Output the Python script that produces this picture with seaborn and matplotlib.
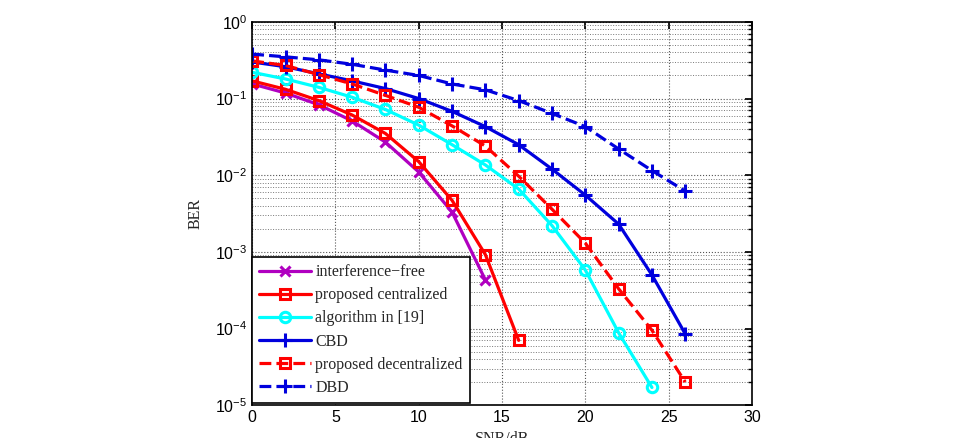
import numpy as np
import pandas as pd
import matplotlib
matplotlib.use('Agg')
import matplotlib.pyplot as plt
import seaborn as sns
from matplotlib.ticker import LogLocator, NullFormatter

# --- data ---
snr_if = [0, 2, 4, 6, 8, 10, 12, 14]
ber_if = [0.155, 0.118, 0.083, 0.051, 0.027, 0.011, 0.0033, 0.00043]

snr_pc = [0, 2, 4, 6, 8, 10, 12, 14, 16]
ber_pc = [0.17, 0.132, 0.094, 0.061, 0.035, 0.015, 0.0047, 0.00092, 7.0e-5]

snr_alg = [0, 2, 4, 6, 8, 10, 12, 14, 16, 18, 20, 22, 24]
ber_alg = [0.22, 0.18, 0.14, 0.104, 0.072, 0.045, 0.025, 0.0136, 0.0066, 0.0022, 0.00058, 8.8e-5, 1.7e-5]

snr_cbd = [0, 2, 4, 6, 8, 10, 12, 14, 16, 18, 20, 22, 24, 26]
ber_cbd = [0.30, 0.26, 0.21, 0.17, 0.135, 0.10, 0.068, 0.043, 0.025, 0.012, 0.0055, 0.0023, 0.0005, 8.5e-5]

snr_pd = [0, 2, 4, 6, 8, 10, 12, 14, 16, 18, 20, 22, 24, 26]
ber_pd = [0.31, 0.27, 0.205, 0.155, 0.11, 0.077, 0.044, 0.024, 0.0097, 0.0036, 0.0013, 0.00033, 9.5e-5, 2.0e-5]

snr_dbd = [0, 2, 4, 6, 8, 10, 12, 14, 16, 18, 20, 22, 24, 26]
ber_dbd = [0.38, 0.35, 0.32, 0.28, 0.235, 0.20, 0.155, 0.13, 0.094, 0.064, 0.043, 0.022, 0.0115, 0.0062]

series = [
    ('interference\u2212free', snr_if, ber_if, '#B000C0', 'x', '-'),
    ('proposed centralized', snr_pc, ber_pc, '#FF0000', 's', '-'),
    ('algorithm in [19]', snr_alg, ber_alg, '#00FFFF', 'o', '-'),
    ('CBD', snr_cbd, ber_cbd, '#0000DD', '+', '-'),
    ('proposed decentralized', snr_pd, ber_pd, '#FF0000', 's', '--'),
    ('DBD', snr_dbd, ber_dbd, '#0000DD', '+', '--'),
]

sns.set_theme(style="white")
plt.rcParams['font.family'] = ['Liberation Sans', 'DejaVu Sans']
plt.rcParams['mathtext.fontset'] = 'custom'
plt.rcParams['mathtext.rm'] = 'Liberation Sans'
plt.rcParams['mathtext.it'] = 'Liberation Sans'

fig = plt.figure(figsize=(9.59, 4.38), dpi=100)
ax = fig.add_axes([0.263, 0.075, 0.521, 0.875])

for name, x, y, col, mk, ls in series:
    df = pd.DataFrame({'SNR': x, 'BER': y})
    ms = 10 if mk == '+' else 7.5
    sns.lineplot(data=df, x='SNR', y='BER', ax=ax, color=col, marker=mk,
                 linestyle=ls, linewidth=2.3, markersize=ms, markeredgewidth=2.2,
                 markerfacecolor='none', markeredgecolor=col, label=name,
                 dashes=False if ls == '-' else (3, 2.5))

ax.set_yscale('log')
ax.set_xlim(0, 30)
ax.set_ylim(1e-5, 1)
ax.set_xticks([0, 5, 10, 15, 20, 25, 30])
ax.yaxis.set_major_locator(LogLocator(base=10, numticks=10))
ax.yaxis.set_minor_locator(LogLocator(base=10, subs=np.arange(2, 10), numticks=20))
ax.yaxis.set_minor_formatter(NullFormatter())

ax.grid(True, which='major', linestyle=':', color='#555555', linewidth=0.8)
ax.grid(True, which='minor', axis='y', linestyle=':', color='#777777', linewidth=0.7)
ax.tick_params(axis='both', which='both', direction='in', top=True, right=True,
               labelsize=11.5, colors='black')
ax.tick_params(which='major', length=5)
ax.tick_params(which='minor', length=3)
for s in ax.spines.values():
    s.set_color('black')
    s.set_linewidth(1.2)

ax.set_xlabel('SNR/dB', family=['Liberation Serif'], fontsize=11.5, labelpad=4)
ax.set_ylabel('BER', family=['Liberation Serif'], fontsize=11.5, labelpad=8)

leg = ax.legend(loc='lower left', bbox_to_anchor=(0.0, 0.005), borderaxespad=0,
                prop={'family': 'Liberation Serif', 'size': 11.5},
                frameon=True, fancybox=False, edgecolor='black', framealpha=1,
                handlelength=3.2, labelspacing=0.45, handletextpad=0.3,
                borderpad=0.45)
leg.get_frame().set_linewidth(1.2)

fig.savefig('out.png', dpi=100)
